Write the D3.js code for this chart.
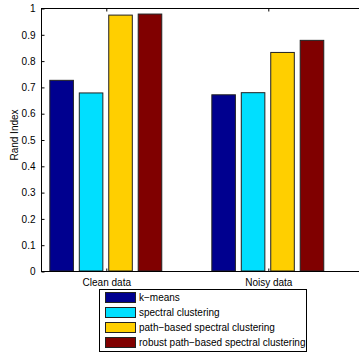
<!DOCTYPE html>
<html>
<head>
<meta charset="utf-8">
<script src="https://cdn.jsdelivr.net/npm/d3@7"></script>
<style>
  html, body { margin: 0; padding: 0; background: #fff; }
  svg { display: block; font-family: "Liberation Sans", Arial, sans-serif; }
</style>
</head>
<body>
<svg id="chart" width="359" height="352"></svg>
<script>
// Rand Index of four clustering methods on two datasets
const groups = ["Clean data", "Noisy data"];
const methods = [
  "k\u2212means",
  "spectral clustering",
  "path\u2212based spectral clustering",
  "robust path\u2212based spectral clustering"
];
const colors = ["#00008f", "#00dfff", "#ffcf00", "#800000"];
const kmeans = [0.725, 0.670];
const spectral = [0.677, 0.678];
const pathBased = [0.973, 0.831];
const robustPath = [0.977, 0.877];
const yTicks = [0, 0.1, 0.2, 0.3, 0.4, 0.5, 0.6, 0.7, 0.8, 0.9, 1];
const yLabel = "Rand Index";

const series = [kmeans, spectral, pathBased, robustPath];

const svg = d3.select("#chart");
const plotLeft = 41, plotTop = 8, plotBottom = 271, plotRight = 365;

// x in group units: groups at 1 and 2
const x = d3.scaleLinear().domain([0.6, 2.6]).range([plotLeft, plotRight]);
const y = d3.scaleLinear().domain([0, 1]).range([plotBottom, plotTop]);

const nS = series.length;
const groupWidth = Math.min(0.8, nS / (nS + 1.5));
const step = groupWidth / nS;
const barW = step * 0.8;

// bars
series.forEach((vals, si) => {
  svg.append("g").selectAll("rect")
    .data(vals)
    .join("rect")
    .attr("x", (d, gi) => x(gi + 1 - groupWidth / 2 + step * si + (step - barW) / 2))
    .attr("width", x(barW) - x(0))
    .attr("y", d => y(d))
    .attr("height", d => y(0) - y(d))
    .attr("fill", colors[si])
    .attr("stroke", "#222")
    .attr("stroke-width", 1);
});

// axes box (top and bottom lines)
const axisColor = "#000";
svg.append("line").attr("x1", plotLeft).attr("x2", plotRight).attr("y1", plotTop + 0.5).attr("y2", plotTop + 0.5).attr("stroke", axisColor);
svg.append("line").attr("x1", plotLeft).attr("x2", plotRight).attr("y1", plotBottom + 0.5).attr("y2", plotBottom + 0.5).attr("stroke", axisColor);

// left axis with inward ticks
const yAxis = d3.axisLeft(y).tickValues(yTicks).tickSize(-3).tickPadding(6)
  .tickFormat(d => d === 0 ? "0" : (d === 1 ? "1" : d3.format(".1f")(d)));
const gy = svg.append("g").attr("transform", `translate(${plotLeft + 0.5},0.5)`).call(yAxis);
gy.select(".domain").remove();
gy.append("line").attr("x1", 0).attr("x2", 0).attr("y1", plotTop).attr("y2", plotBottom).attr("stroke", axisColor);
gy.selectAll(".tick line").attr("stroke", axisColor);
gy.selectAll(".tick text").attr("font-size", 10).attr("fill", "#000")
  .attr("font-family", "Liberation Sans, Arial, sans-serif");

// bottom axis with inward ticks and group labels
const xAxis = d3.axisBottom(x).tickValues([1, 2]).tickSize(-3).tickPadding(7)
  .tickFormat(d => groups[d - 1]);
const gx = svg.append("g").attr("transform", `translate(0.5,${plotBottom + 0.5})`).call(xAxis);
gx.select(".domain").remove();
gx.selectAll(".tick line").attr("stroke", axisColor);
gx.selectAll(".tick text").attr("font-size", 10).attr("fill", "#000")
  .attr("font-family", "Liberation Sans, Arial, sans-serif");

// top axis inward ticks
const gt = svg.append("g").attr("transform", `translate(0.5,${plotTop + 0.5})`)
  .call(d3.axisTop(x).tickValues([1, 2]).tickSize(-3).tickFormat(""));
gt.select(".domain").remove();
gt.selectAll(".tick line").attr("stroke", axisColor);

// y label
svg.append("text")
  .attr("transform", `translate(18,135) rotate(-90)`)
  .attr("text-anchor", "middle")
  .attr("font-size", 10)
  .text(yLabel);

// legend
const lg = svg.append("g");
const lx = 99, ly = 289, lw = 207, lh = 62, rowH = 15;
lg.append("rect").attr("x", lx + 0.5).attr("y", ly + 0.5).attr("width", lw).attr("height", lh)
  .attr("fill", "#fff").attr("stroke", "#000").attr("stroke-width", 1);
methods.forEach((m, i) => {
  const cy = ly + 8.5 + i * rowH;
  lg.append("rect").attr("x", lx + 6.5).attr("y", cy - 5).attr("width", 30).attr("height", 10)
    .attr("fill", colors[i]).attr("stroke", "#222");
  lg.append("text").attr("x", lx + 40).attr("y", cy + 3.5).attr("font-size", 10).text(m);
});
</script>
</body>
</html>
